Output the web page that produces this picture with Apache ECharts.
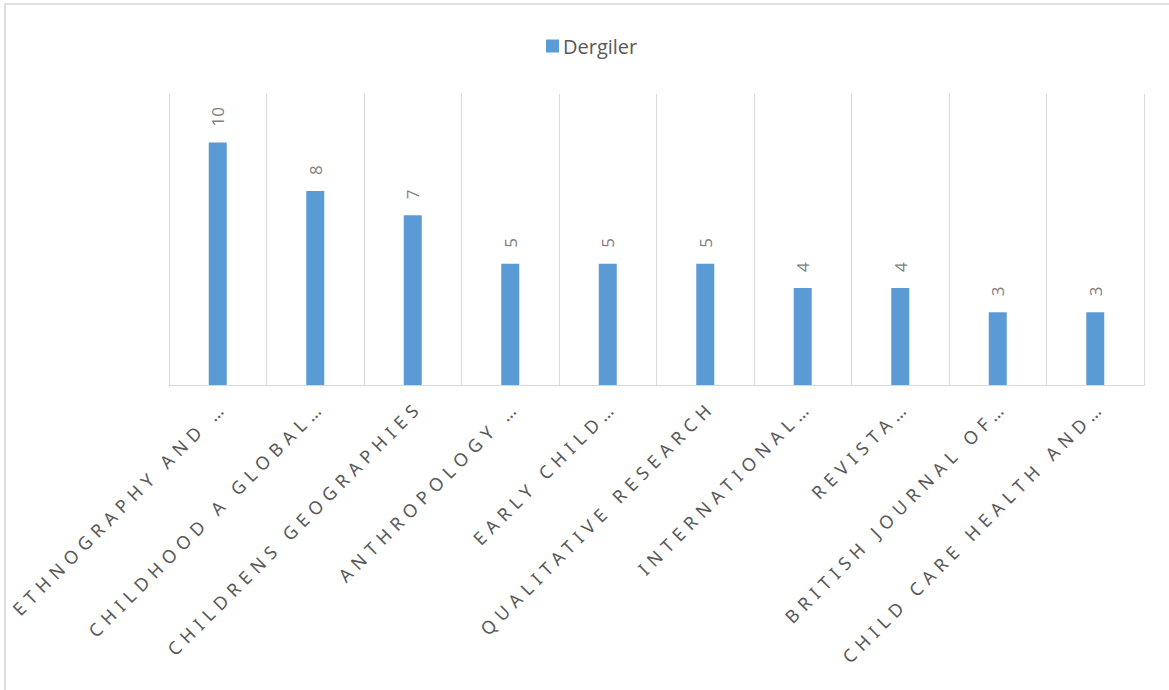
<!DOCTYPE html>
<html><head><meta charset="utf-8">
<script src="https://cdn.jsdelivr.net/npm/echarts@6/dist/echarts.min.js"></script>
<style>
html,body{margin:0;padding:0;background:#fff;overflow:hidden;}
#frame{position:absolute;left:4px;top:3px;width:1180px;height:720px;border:2px solid #dedede;box-sizing:border-box;}
#chart{position:absolute;left:0;top:0;width:1169px;height:690px;}
#chart text[style*="Noto Sans"]{letter-spacing:6px;}
</style></head>
<body><div id="frame"></div><div id="chart"></div>
<script>
const seriesName = 'Dergiler';
const categories = ['ETHNOGRAPHY AND …', 'CHILDHOOD A GLOBAL…', 'CHILDRENS GEOGRAPHIES', 'ANTHROPOLOGY …', 'EARLY CHILD…', 'QUALITATIVE RESEARCH', 'INTERNATIONAL…', 'REVISTA…', 'BRITISH JOURNAL OF…', 'CHILD CARE HEALTH AND…'];
const values = [10, 8, 7, 5, 5, 5, 4, 4, 3, 3];

const chart = echarts.init(document.getElementById('chart'), null, {renderer: 'svg'});
chart.setOption({
  animation: false,
  legend: {
    top: 31, left: 541,
    icon: 'rect', itemWidth: 13, itemHeight: 13, itemGap: 10,
    textStyle: {color: '#595959', fontSize: 20, fontFamily: 'Open Sans', padding: [0,0,0,-1]},
    data: [seriesName]
  },
  grid: {left: 169, right: 25, top: 94, bottom: 305, containLabel: false},
  xAxis: {
    type: 'category', data: categories,
    axisLine: {lineStyle: {color: '#d9d9d9', width: 1}},
    axisTick: {show: false},
    splitLine: {show: true, lineStyle: {color: '#d9d9d9', width: 1}},
    axisLabel: {interval: 0, rotate: 45, margin: 12, verticalAlign: 'top',
      color: '#595959', fontSize: 18, fontFamily: 'Noto Sans'}
  },
  yAxis: {
    type: 'value', min: 0, max: 12, interval: 2,
    axisLabel: {show: false}, axisLine: {show: false}, axisTick: {show: false},
    splitLine: {show: false}
  },
  series: [{
    name: seriesName, type: 'bar', data: values, barWidth: 18,
    itemStyle: {color: '#5b9bd5'},
    label: {show: true, position: 'top', rotate: 90, distance: 16,
      align: 'left', verticalAlign: 'middle',
      color: '#808080', fontSize: 17, fontFamily: 'Open Sans'}
  }]
});
</script>
</body></html>
